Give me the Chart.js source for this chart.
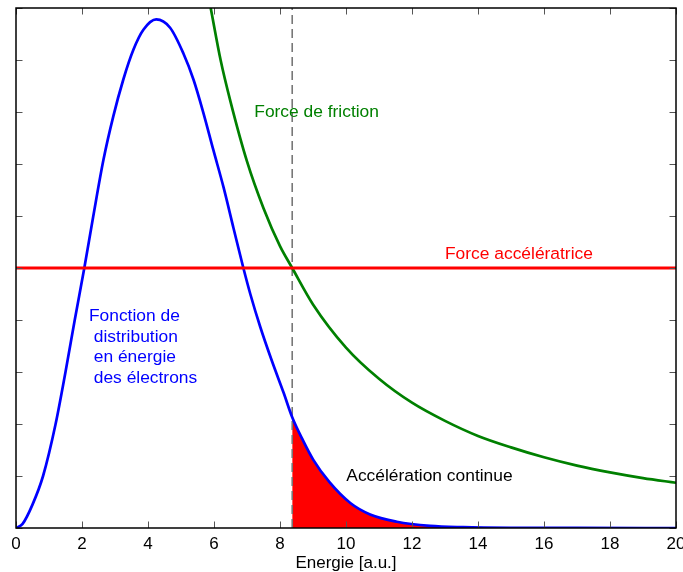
<!DOCTYPE html>
<html><head><meta charset="utf-8">
<script src="https://cdn.jsdelivr.net/npm/chart.js@4/dist/chart.umd.min.js"></script>
<style>html,body{margin:0;padding:0;background:#fff}#wrap{width:683px;height:572px;position:relative}</style>
</head><body><div id="wrap"><canvas id="c"></canvas></div>
<script>
// ---- data ----
const energyBlue = [0, 0.2, 0.5, 0.82, 1.2, 1.5, 1.78, 2.07, 2.34, 2.65, 2.95, 3.25, 3.56, 3.86, 4.25, 4.67, 5.07, 5.38, 5.68, 5.98, 6.29, 6.59, 6.89, 7.10, 7.40, 7.75, 8.11, 8.37, 8.7, 9.01, 9.5, 10.13, 10.73, 11.54, 12.55, 13.55, 15, 17, 20];
const distBlue   = [0, 0.08, 0.45, 1.0, 2.0, 3.0, 4.0, 5.0, 5.99, 7.08, 7.92, 8.62, 9.2, 9.58, 9.78, 9.62, 9.13, 8.62, 7.98, 7.27, 6.55, 5.77, 5.0, 4.5, 3.87, 3.22, 2.60, 2.13, 1.68, 1.31, 0.88, 0.48, 0.26, 0.12, 0.04, 0.015, 0.003, 0.0005, 0];
const energyGreen   = [5.9, 6.2, 6.5, 7.0, 7.5, 8.0, 8.37, 9.0, 10, 11, 12, 13, 14, 15, 16, 17, 18, 19, 20];
const frictionGreen = [10.0, 9.0, 8.2, 7.05, 6.15, 5.42, 5.0, 4.3, 3.47, 2.87, 2.41, 2.06, 1.77, 1.55, 1.36, 1.2, 1.07, 0.96, 0.87];
const accelForce = 5;
const accelRangeE = [0, 20];
const cutoffEnergy = 8.37;
const xTickRange = [0, 20, 2];
const yTickRange = [0, 10, 1];
const axisTitle = 'Energie [a.u.]';
const labelFriction = ['Force de friction'];
const labelAccel = ['Force accélératrice'];
const labelDist = ['Fonction de', ' distribution', ' en énergie', ' des électrons'];
const labelCont = ['Accélération continue'];

// ---- building datasets ----
const pts = (xs, ys) => xs.map((x, i) => ({x, y: ys[i]}));
const bluePts = pts(energyBlue, distBlue);
const fillPts = bluePts.filter(p => p.x >= cutoffEnergy);
const FONT = '"Liberation Sans", Arial, Helvetica, sans-serif';

const annotations = [
  {lines: labelFriction, x: 7.22, y: 7.99, color: '#008000'},
  {lines: labelAccel, x: 13.0, y: 5.26, color: '#ff0000'},
  {lines: labelDist, x: 2.21, y: 4.07, color: '#0000ff'},
  {lines: labelCont, x: 10.01, y: 0.99, color: '#000000'}
];

const decor = {
  id: 'decor',
  afterDatasetsDraw(chart) {
    const {ctx, chartArea: a, scales: {x, y}} = chart;
    ctx.save();
    ctx.strokeStyle = '#555'; ctx.lineWidth = 1;
    const L = 6.5;
    x.ticks.forEach(t => {
      const px = Math.round(x.getPixelForValue(t.value)) + 0.5;
      ctx.beginPath();
      ctx.moveTo(px, a.bottom); ctx.lineTo(px, a.bottom - L);
      ctx.moveTo(px, a.top); ctx.lineTo(px, a.top + L);
      ctx.stroke();
    });
    y.ticks.forEach(t => {
      const py = Math.round(y.getPixelForValue(t.value)) + 0.5;
      ctx.beginPath();
      ctx.moveTo(a.left, py); ctx.lineTo(a.left + L, py);
      ctx.moveTo(a.right, py); ctx.lineTo(a.right - L, py);
      ctx.stroke();
    });
    ctx.strokeStyle = '#000'; ctx.lineWidth = 1.5;
    ctx.strokeRect(a.left, a.top, a.right - a.left, a.bottom - a.top);
    ctx.font = '17.4px ' + FONT;
    ctx.textBaseline = 'middle'; ctx.textAlign = 'left';
    annotations.forEach(an => {
      ctx.fillStyle = an.color;
      const px = x.getPixelForValue(an.x), py = y.getPixelForValue(an.y);
      an.lines.forEach((ln, i) => ctx.fillText(ln, px, py + i * 20.5));
    });
    ctx.restore();
  }
};

new Chart(document.getElementById('c'), {
  type: 'line',
  data: {
    datasets: [
      {data: pts(accelRangeE, accelRangeE.map(() => accelForce)), borderColor: '#ff0000', borderWidth: 2.8, pointRadius: 0, tension: 0},
      {data: pts(energyGreen, frictionGreen), borderColor: '#008000', borderWidth: 2.7, pointRadius: 0, cubicInterpolationMode: 'monotone'},
      {data: bluePts, borderColor: '#0000ff', borderWidth: 2.7, pointRadius: 0, cubicInterpolationMode: 'monotone'},
      {data: [{x: cutoffEnergy, y: yTickRange[0]}, {x: cutoffEnergy, y: yTickRange[1]}], borderColor: '#777', borderWidth: 1.6, borderDash: [9, 5], pointRadius: 0},
      {data: fillPts, borderColor: '#000', borderWidth: 1, backgroundColor: '#ff0000', fill: 'origin', pointRadius: 0, cubicInterpolationMode: 'monotone'}
    ]
  },
  options: {
    responsive: true, maintainAspectRatio: false, animation: false,
    layout: {padding: {left: 16, right: 7, top: 8, bottom: 0}},
    plugins: {legend: {display: false}, tooltip: {enabled: false}},
    scales: {
      x: {
        type: 'linear', min: xTickRange[0], max: xTickRange[1],
        ticks: {stepSize: xTickRange[2], color: '#000', font: {family: FONT, size: 17, lineHeight: 1.2}, padding: 6, maxRotation: 0},
        grid: {display: false, drawTicks: false, tickLength: 0},
        border: {display: false},
        title: {display: true, text: axisTitle, color: '#000', font: {family: FONT, size: 17, lineHeight: 1}, padding: {top: 0, bottom: 0}},
        afterFit(s) { s.height = 44; s.paddingLeft = 0; s.paddingRight = 0; }
      },
      y: {
        type: 'linear', min: yTickRange[0], max: yTickRange[1],
        ticks: {display: false, stepSize: yTickRange[2]},
        grid: {display: false, drawTicks: false, tickLength: 0},
        border: {display: false},
        afterFit(s) { s.width = 0; s.paddingTop = 0; s.paddingBottom = 0; }
      }
    }
  },
  plugins: [decor]
});
</script></body></html>
